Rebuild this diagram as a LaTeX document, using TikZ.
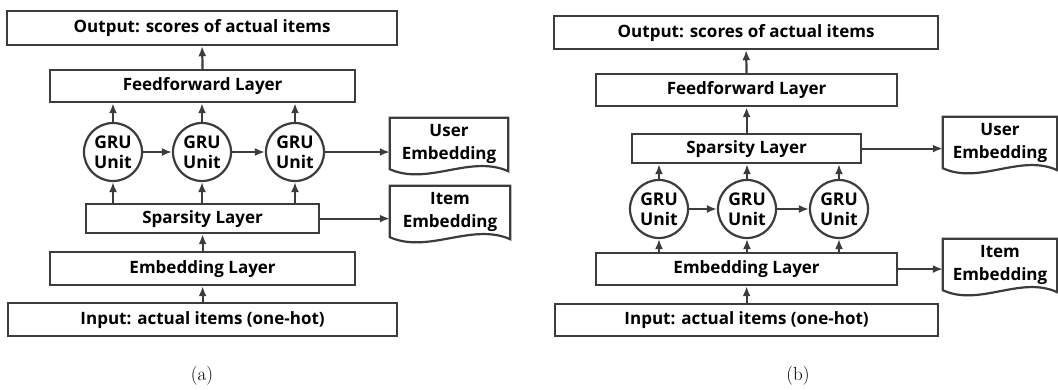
\documentclass[tikz,border=0pt]{standalone}
\usepackage{fontspec}
\setsansfont{Open Sans}
\usetikzlibrary{arrows.meta,calc}
\definecolor{ln}{HTML}{3C3C3C}
\begin{document}
\begin{tikzpicture}[x=1pt,y=-1pt,
  lay/.style={draw=ln,line width=2.2pt,font=\sffamily\bfseries\fontsize{17}{20}\selectfont,inner sep=0pt,anchor=north west},
  gru/.style={draw=ln,line width=2.2pt,circle,minimum size=58pt,inner sep=0pt,align=center,font=\sffamily\bfseries\fontsize{17.5}{20}\selectfont},
  docn/.style={inner sep=0pt,align=center,font=\sffamily\bfseries\fontsize{17}{23}\selectfont},
  docline/.style={draw=ln,line width=2.2pt,line join=miter},
  arr/.style={draw=ln,line width=2.2pt,-{Latex[length=10pt,width=8pt]}},
  caplbl/.style={font=\fontsize{19}{22}\selectfont}
]
\useasboundingbox (0,0) rectangle (1058,389);
% ---------- (a)
\node[lay,minimum width=390pt,minimum height=34pt] (outA) at (6,10) {Output: scores of actual items};
\node[lay,minimum width=305pt,minimum height=32pt] (ffA) at (49,69) {Feedforward Layer};
\node[gru] (g1A) at (113,152) {GRU\\Unit};
\node[gru] (g2A) at (202,152) {GRU\\Unit};
\node[gru] (g3A) at (295,152) {GRU\\Unit};
\node[lay,minimum width=233pt,minimum height=29pt] (spA) at (85,203) {Sparsity Layer};
\node[lay,minimum width=305pt,minimum height=33pt] (embA) at (49,251) {Embedding Layer};
\node[lay,minimum width=389pt,minimum height=33pt] (inA) at (7,302) {Input: actual items (one-hot)};
\node[docn,minimum width=118pt,minimum height=52pt] (userA) at (449,144) {User\\Embedding};
\node[docn,minimum width=120pt,minimum height=52pt] (itemA) at (450,212) {Item\\Embedding};
\node[caplbl] (capA) at (202,376) {(a)};
% ---------- (b)
\node[lay,minimum width=384pt,minimum height=33pt] (outB) at (553,15) {Output: scores of actual items};
\node[lay,minimum width=301pt,minimum height=32pt] (ffB) at (595,73) {Feedforward Layer};
\node[lay,minimum width=229pt,minimum height=29pt] (spB) at (631,133) {Sparsity Layer};
\node[gru] (g1B) at (659,209) {GRU\\Unit};
\node[gru] (g2B) at (747,209) {GRU\\Unit};
\node[gru] (g3B) at (839,209) {GRU\\Unit};
\node[lay,minimum width=301pt,minimum height=32pt] (embB) at (595,252) {Embedding Layer};
\node[lay,minimum width=383pt,minimum height=32pt] (inB) at (554,303) {Input: actual items (one-hot)};
\node[docn,minimum width=114pt,minimum height=52pt] (userB) at (1000,143) {User\\Embedding};
\node[docn,minimum width=114pt,minimum height=52pt] (itemB) at (1000,265) {Item\\Embedding};
\node[caplbl] (capB) at (798,376) {(b)};
% ---------- document outlines
\foreach \d in {userA,itemA,userB,itemB}{
  \draw[docline] ($(\d.south west)+(0,-1)$) -- (\d.north west) -- (\d.north east) -- ($(\d.south east)+(0,1)$)
    .. controls ($(\d.south west)!0.68!(\d.south east)+(0,-16)$) and ($(\d.south west)!0.32!(\d.south east)+(0,16)$) .. ($(\d.south west)+(0,-1)$) -- cycle;
}
% ---------- arrows (a)
\draw[arr] (ffA.north) -- (outA.south);
\foreach \g in {g1A,g2A,g3A}{
  \draw[arr] (\g.north) -- (\g.north |- ffA.south);
  \draw[arr] (\g.south |- spA.north) -- (\g.south);
}
\draw[arr] (g1A) -- (g2A);
\draw[arr] (g2A) -- (g3A);
\draw[arr] (g3A.east) -- (g3A.east -| userA.west);
\draw[arr] (spA.east) -- (spA.east -| itemA.west);
\draw[arr] (embA.north) -- (embA.north |- spA.south);
\draw[arr] (inA.north -| embA.north) -- (embA.south);
% ---------- arrows (b)
\draw[arr] (ffB.north) -- (outB.south);
\draw[arr] (spB.north -| ffB.north) -- (ffB.south);
\foreach \g in {g1B,g2B,g3B}{
  \draw[arr] (\g.north) -- (\g.north |- spB.south);
  \draw[arr] (\g.south |- embB.north) -- (\g.south);
}
\draw[arr] (g1B) -- (g2B);
\draw[arr] (g2B) -- (g3B);
\draw[arr] (spB.east) -- (spB.east -| userB.west);
\draw[arr] (embB.east) -- (embB.east -| itemB.west);
\draw[arr] (inB.north -| embB.north) -- (embB.south);
\end{tikzpicture}
\end{document}
